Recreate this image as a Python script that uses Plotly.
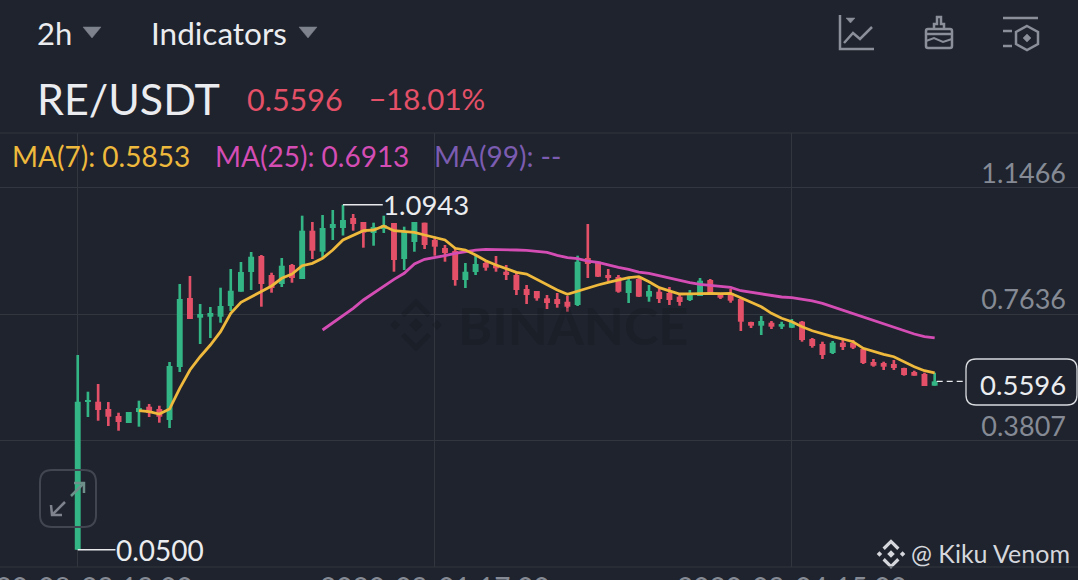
#!/usr/bin/env python3
# RE/USDT 2h candles with MA(7) and MA(25), dark mobile trading view
import plotly.graph_objects as go

# candle values
opens = [0.05, 0.4972, 0.4981, 0.476, 0.4548, 0.4336, 0.467, 0.483, 0.476, 0.4427,
         0.6032, 0.812, 0.7524, 0.7554, 0.7554, 0.7878, 0.8311, 0.8907, 0.9392, 0.8817,
         0.8544, 0.9119, 0.8695, 1.0158, 0.9522, 1.0239, 1.0239, 1.0542, 1.0421, 1.0088,
         1.0209, 1.0391, 0.9301, 0.9815, 1.04, 0.9876, 0.9634, 0.9543, 0.8665, 0.8907,
         0.918, 0.9119, 0.8916, 0.8817, 0.8393, 0.8332, 0.8111, 0.809, 0.8008, 0.7908,
         0.9331, 0.9219, 0.8817, 0.8756, 0.8272, 0.8695, 0.816, 0.8311, 0.8272, 0.816,
         0.806, 0.8181, 0.8665, 0.8241, 0.8272, 0.809, 0.7394, 0.7282, 0.7373, 0.7252,
         0.7221, 0.7403, 0.6879, 0.6728, 0.6455, 0.6767, 0.6758, 0.6577, 0.6183, 0.6153,
         0.6122, 0.6001, 0.588, 0.582, 0.5466]
highs = [0.6395, 0.5284, 0.5517, 0.4972, 0.4648, 0.467, 0.5012, 0.4912, 0.486, 0.6183,
         0.8544, 0.8786, 0.7939, 0.7848, 0.8432, 0.8998, 0.921, 0.9513, 0.9422, 0.8886,
         0.9331, 0.915, 1.0612, 1.0421, 1.0633, 1.0784, 1.0943, 1.0663, 1.0421, 1.04,
         1.0612, 1.0391, 1.0279, 1.0421, 1.04, 0.9976, 0.9725, 0.9634, 0.918, 0.9422,
         0.9249, 0.9392, 0.9119, 0.8916, 0.8514, 0.8332, 0.8211, 0.8272, 0.8181, 0.9401,
         1.036, 0.9219, 0.8998, 0.8817, 0.8756, 0.8726, 0.8514, 0.8393, 0.8453, 0.8241,
         0.8362, 0.8726, 0.8695, 0.8272, 0.8393, 0.812, 0.7403, 0.7575, 0.7424, 0.7403,
         0.7485, 0.7424, 0.691, 0.6798, 0.6819, 0.6849, 0.6849, 0.6607, 0.6274, 0.6192,
         0.6244, 0.601, 0.592, 0.5859, 0.5859]
lows = [0.05, 0.4518, 0.4406, 0.4246, 0.4103, 0.4336, 0.4225, 0.4518, 0.4346, 0.4185,
        0.588, 0.7485, 0.6728, 0.691, 0.7373, 0.7727, 0.8311, 0.8362, 0.7857, 0.8281,
        0.8453, 0.8583, 0.8695, 0.9301, 0.9361, 0.9876, 1.0012, 1.0158, 0.9643, 0.9703,
        1.0088, 0.8916, 0.8968, 0.9522, 0.9604, 0.9401, 0.9219, 0.8493, 0.8423, 0.8817,
        0.8947, 0.8916, 0.8665, 0.8211, 0.7939, 0.8039, 0.7787, 0.7827, 0.7706, 0.7878,
        0.8726, 0.8756, 0.8635, 0.8281, 0.7969, 0.8151, 0.8008, 0.7969, 0.7908, 0.7887,
        0.803, 0.8181, 0.8211, 0.809, 0.7978, 0.7121, 0.7212, 0.7, 0.7182, 0.7182,
        0.7212, 0.6798, 0.6616, 0.6274, 0.6425, 0.6546, 0.6577, 0.6122, 0.6041, 0.5941,
        0.5941, 0.5768, 0.5768, 0.5457, 0.5466]
closes = [0.4981, 0.5033, 0.473, 0.4527, 0.4367, 0.467, 0.4791, 0.4639, 0.4527, 0.6062,
          0.809, 0.7485, 0.7636, 0.7666, 0.7878, 0.8341, 0.8907, 0.937, 0.8544, 0.8423,
          0.9098, 0.8726, 1.0158, 0.9552, 1.0239, 1.036, 1.0481, 1.036, 1.0097, 1.0269,
          1.033, 0.9271, 1.0127, 1.0421, 0.9725, 0.9673, 0.9482, 0.8665, 0.8916, 0.915,
          0.9038, 0.9019, 0.8817, 0.8362, 0.8211, 0.8111, 0.7969, 0.7939, 0.7857, 0.9219,
          0.915, 0.8765, 0.8726, 0.8311, 0.8644, 0.816, 0.8332, 0.809, 0.806, 0.7999,
          0.8272, 0.8644, 0.8211, 0.8129, 0.8039, 0.7403, 0.7282, 0.7424, 0.7252, 0.7333,
          0.7403, 0.6849, 0.6667, 0.6395, 0.6767, 0.6637, 0.6616, 0.6153, 0.6071, 0.6041,
          0.6001, 0.579, 0.5768, 0.5457, 0.5596]

# moving averages as drawn, first value at candle 6 and candle 24
ma7 = [0.4709, 0.4679, 0.4609, 0.476, 0.5387, 0.5941, 0.6343, 0.6698, 0.71, 0.7657,
       0.799, 0.816, 0.8332, 0.8484, 0.8717, 0.8847, 0.9098, 0.9171, 0.9322, 0.9573,
       0.9876, 1.0027, 1.0158, 1.0179, 1.03, 1.0158, 1.0127, 1.0109, 1.0027, 0.9946,
       0.9876, 0.9625, 0.9573, 0.9422, 0.9249, 0.9119, 0.9019, 0.8898, 0.8847, 0.8686,
       0.8514, 0.8362, 0.8232, 0.8332, 0.8432, 0.8514, 0.8596, 0.8665, 0.8735, 0.8765,
       0.8614, 0.8432, 0.8332, 0.8241, 0.8247, 0.8263, 0.8263, 0.8251, 0.8263, 0.8129,
       0.799, 0.7857, 0.7657, 0.7506, 0.7403, 0.7252, 0.713, 0.7031, 0.6949, 0.6879,
       0.6798, 0.6598, 0.6495, 0.6416, 0.6343, 0.6192, 0.6041, 0.592, 0.5853]
ma25 = [0.7152, 0.7364, 0.7575, 0.7809, 0.806, 0.8263, 0.8493, 0.8686, 0.8868, 0.915,
        0.9292, 0.934, 0.9401, 0.9473, 0.9522, 0.9573, 0.9594, 0.9594, 0.9573, 0.9573,
        0.9564, 0.9534, 0.9504, 0.9413, 0.934, 0.931, 0.924, 0.9201, 0.9119, 0.905,
        0.8989, 0.8907, 0.8868, 0.8795, 0.8717, 0.8644, 0.8583, 0.8535, 0.8505, 0.8484,
        0.8444, 0.8341, 0.8293, 0.8241, 0.8181, 0.8151, 0.8129, 0.809, 0.803, 0.796,
        0.7857, 0.7757, 0.7657, 0.7536, 0.7433, 0.7333, 0.7233, 0.713, 0.7031, 0.6949,
        0.6913]

price_ticks = [0.3807, 0.7636, 1.1466]
time_ticks = [0, 35, 70]
time_labels = ["2020-08-29 19:00", "2020-09-01 17:00", "2020-09-04 15:00"]
last_price = 0.5596
top_high = 1.0943
bottom_low = 0.05

BG = "#1e232d"
GRID = "#31363f"
GREEN = "#33b585"
RED = "#e35068"
YELLOW = "#eeb93c"
PINK = "#d44db4"
PURPLE = "#7b5cb0"
ICON = "#8a8f99"
FONT = "Lato"

W, H = 1078, 580
candle_x = list(range(len(closes)))
candle_colors = [GREEN if c >= o else RED for o, c in zip(opens, closes)]


def px(x):  # window pixel to paper
    return x / W


def py(y):
    return 1 - y / H


def pth(points, close=False):  # svg path in paper coords from window pixels
    s = "M" + " L".join(f"{px(a):.5f},{py(b):.5f}" for a, b in points)
    return s + (" Z" if close else "")


def rounded(x0, y0, x1, y1, r):
    return (f"M{px(x0 + r):.5f},{py(y0):.5f} L{px(x1 - r):.5f},{py(y0):.5f} "
            f"Q{px(x1):.5f},{py(y0):.5f} {px(x1):.5f},{py(y0 + r):.5f} "
            f"L{px(x1):.5f},{py(y1 - r):.5f} Q{px(x1):.5f},{py(y1):.5f} {px(x1 - r):.5f},{py(y1):.5f} "
            f"L{px(x0 + r):.5f},{py(y1):.5f} Q{px(x0):.5f},{py(y1):.5f} {px(x0):.5f},{py(y1 - r):.5f} "
            f"L{px(x0):.5f},{py(y0 + r):.5f} Q{px(x0):.5f},{py(y0):.5f} {px(x0 + r):.5f},{py(y0):.5f} Z")


fig = go.Figure()
# wicks and bodies as floating bars, plotly's candlestick has no body width setting
fig.add_trace(go.Bar(x=candle_x, base=lows, y=[h - l for h, l in zip(highs, lows)], width=0.26,
                     marker=dict(color=candle_colors, line=dict(width=0)), showlegend=False))
fig.add_trace(go.Bar(x=candle_x, base=[min(o, c) for o, c in zip(opens, closes)],
                     y=[abs(o - c) for o, c in zip(opens, closes)], width=0.58,
                     marker=dict(color=candle_colors, line=dict(width=0)), showlegend=False))
fig.add_trace(go.Scatter(x=candle_x[24:], y=ma25, mode="lines", line=dict(color=PINK, width=2.8), showlegend=False))
fig.add_trace(go.Scatter(x=candle_x[6:], y=ma7, mode="lines", line=dict(color=YELLOW, width=2.8), showlegend=False))

# leader lines for high / low labels and the last price
fig.add_trace(go.Scatter(x=[26, 29.9], y=[top_high, top_high], mode="lines", line=dict(color="#e8e9ec", width=1.3), showlegend=False))
fig.add_trace(go.Scatter(x=[0, 3.7], y=[bottom_low, bottom_low], mode="lines", line=dict(color="#e8e9ec", width=1.3), showlegend=False))
fig.add_trace(go.Scatter(x=[84.2, 86.8], y=[last_price, last_price], mode="lines",
                         line=dict(color="#e8e9ec", width=1.3, dash="6px,4px"), showlegend=False))


def label(x, y, text, size, color, anchor="left", bold=False):
    if bold:
        text = f"<b>{text}</b>"
    fig.add_annotation(xref="paper", yref="paper", x=px(x), y=py(y), text=text, showarrow=False,
                       xanchor=anchor, yanchor="middle", borderpad=0, borderwidth=0,
                       font=dict(family=FONT, size=size, color=color))


label(37, 33, "2h", 31, "#eaecef")
label(151, 33, "Indicators", 31.5, "#eaecef")
label(37, 98.5, "RE/USDT", 43, "#eaecef")
label(247, 99, "0.5596", 30.5, RED)
label(369, 99, "−18.01%", 29.5, RED)
label(12, 156, "MA(7): 0.5853", 28, YELLOW)
label(215, 156, "MA(25): 0.6913", 28, PINK)
label(434, 156, "MA(99): --", 28, PURPLE)
label(383, 204, "1.0943", 27.5, "#eaecef")
label(116, 550, "0.0500", 28, "#eaecef")
label(1066, 384.5, "0.5596", 27.5, "#eaecef", "right")
label(1070, 553, "@ Kiku Venom", 25, "#d5d7dc", "right")
label(458, 325, "BINANCE", 52, "rgba(18,21,27,0.28)", bold=True)

# time labels sit mostly below the window, as annotations because plotly drops the first tick label
for tick, text in zip(time_ticks, time_labels):
    fig.add_annotation(xref="x", yref="paper", x=tick, y=py(587), text=text, showarrow=False,
                       xanchor="center", yanchor="middle", borderpad=0,
                       font=dict(family=FONT, size=28, color="#858a94"))

shapes = []


def line_shape(points, color=ICON, width=2.5, close=False, fill=None):
    shapes.append(dict(type="path", xref="paper", yref="paper", path=pth(points, close),
                       line=dict(color=color, width=width), fillcolor=fill, layer="above"))


def logo(cx, cy, s, color, stroke):
    # binance mark: two chevrons, a middle diamond and two side diamonds
    line_shape([(cx - 7 * s, cy - 5 * s), (cx, cy - 12 * s), (cx + 7 * s, cy - 5 * s)], color, stroke)
    line_shape([(cx - 7 * s, cy + 5 * s), (cx, cy + 12 * s), (cx + 7 * s, cy + 5 * s)], color, stroke)
    for dx, r in [(-11, 2.6), (0, 3.6), (11, 2.6)]:
        c = cx + dx * s
        line_shape([(c, cy - r * s), (c + r * s, cy), (c, cy + r * s), (c - r * s, cy)], color, 0, True, color)


# dropdown arrows
line_shape([(83, 27), (101, 27), (92, 38)], "#7d828c", 0.5, True, "#7d828c")
line_shape([(299, 27), (317, 27), (308, 38)], "#7d828c", 0.5, True, "#7d828c")
# chart icon
line_shape([(840, 15), (840, 49), (874, 49)])
line_shape([(844, 43), (853, 33), (860, 39), (872, 27)])
line_shape([(846, 18), (855, 18), (850.5, 23)], ICON, 0.5, True, ICON)
# brush icon
shapes.append(dict(type="path", xref="paper", yref="paper", path=rounded(926, 29, 952, 48, 2),
                   line=dict(color=ICON, width=2.5), layer="above"))
line_shape([(934, 29), (934, 24), (937, 24), (937, 17), (941, 17), (941, 24), (944, 24), (944, 29)])
line_shape([(926, 34), (952, 34)])
line_shape([(926, 41), (934, 38), (943, 42), (952, 39)], ICON, 2)
# settings icon
line_shape([(1003, 18), (1038, 18)])
line_shape([(1003, 31), (1012, 31)])
line_shape([(1003, 46), (1012, 46)])
line_shape([(1027, 26), (1038, 32), (1038, 44), (1027, 50), (1016, 44), (1016, 32)], ICON, 2.5, True)
line_shape([(1027, 34), (1031, 38), (1027, 42), (1023, 38)], ICON, 0.5, True, ICON)
# zoom button on the chart
shapes.append(dict(type="path", xref="paper", yref="paper", path=rounded(40, 470, 96, 527, 12),
                   line=dict(color="#414650", width=2), layer="above"))
line_shape([(52, 515), (65, 502)], "#7e838d", 2.5)
line_shape([(51, 505), (52, 515), (62, 515)], "#7e838d", 2.5)
line_shape([(71, 496), (84, 483)], "#6f8f8a", 2.5)
line_shape([(74, 483), (84, 483), (84, 493)], "#6f8f8a", 2.5)
# last price box
shapes.append(dict(type="path", xref="paper", yref="paper", path=rounded(966, 359, 1077, 405, 10),
                   line=dict(color="#d8dade", width=1.3), fillcolor=BG, layer="above"))
logo(891, 554, 1.05, "#d5d7dc", 3.2)
logo(416, 325, 1.9, "rgba(18,21,27,0.25)", 5)

# the frame lines above and below the plot
line_shape([(0, 133), (W, 133)], GRID, 1.2)
line_shape([(0, 567), (W, 567)], GRID, 1.2)

fig.update_layout(
    width=W, height=H, margin=dict(l=0, r=0, t=0, b=0), autosize=False,
    paper_bgcolor=BG, plot_bgcolor=BG, showlegend=False, shapes=shapes,
    font=dict(family=FONT), barmode="overlay",
    xaxis=dict(
        range=[-7.62, 98.05], domain=[0, 1],
        tickmode="array", tickvals=time_ticks, showticklabels=False, ticks="",
        showgrid=True, gridcolor=GRID, gridwidth=1, zeroline=False, showline=False, automargin=False,
    ),
    yaxis=dict(
        range=[-0.0022, 1.3115], domain=[1 - 567 / H, 1 - 133 / H], side="right",
        tickmode="array", tickvals=price_ticks, ticktext=[f"{v:.4f}" for v in price_ticks], ticks="",
        ticklabelposition="inside", ticklabelstandoff=9, ticklabelshift=-14,
        showgrid=True, gridcolor=GRID, gridwidth=1, zeroline=False, showline=False,
        tickfont=dict(family=FONT, size=27, color="#858a94"), automargin=False,
    ),
)

# the default page has an 8px body margin, the chart should fill the window
fig.write_html("out.html", config=dict(displayModeBar=False),
               post_script="document.body.style.margin='0';document.body.style.overflow='hidden';")
